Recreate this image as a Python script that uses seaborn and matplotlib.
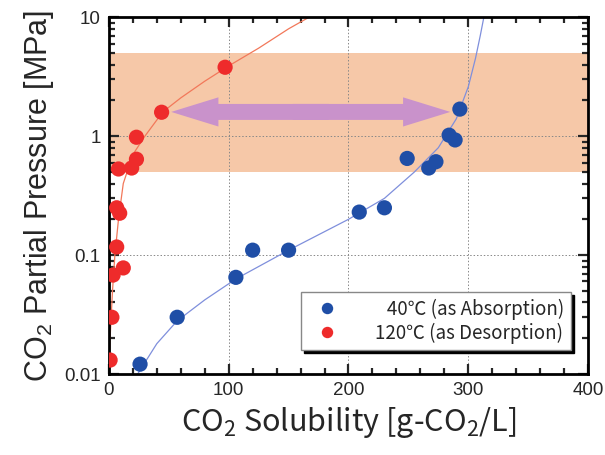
import numpy as np
import pandas as pd
import matplotlib
matplotlib.use('Agg')
import matplotlib.pyplot as plt
import matplotlib.ticker as mticker
from matplotlib.patches import FancyArrowPatch, ArrowStyle
import seaborn as sns

sns.set_theme(style='ticks')
plt.rcParams['font.family'] = ['Liberation Sans', 'DejaVu Sans']
plt.rcParams['mathtext.default'] = 'regular'

# -----------------------------------------------------------------------------
# Data
# -----------------------------------------------------------------------------
lab_40 = '\u200740℃ (as Absorption)'
lab_120 = '120℃ (as Desorption)'

x_40 = [26, 57, 106, 120, 150, 209, 230, 249, 267, 273, 284, 289, 293]
y_40 = [0.0121, 0.030, 0.065, 0.11, 0.11, 0.23, 0.25, 0.65, 0.54, 0.61, 1.02, 0.93, 1.69]

x_120 = [1, 2.5, 3.5, 12, 6.5, 6.5, 9, 8, 19, 23, 23, 44, 97]
y_120 = [0.0131, 0.030, 0.068, 0.078, 0.117, 0.25, 0.225, 0.53, 0.54, 0.64, 0.98, 1.59, 3.8]

# fitted curves as drawn
fit_x_40 = [24, 40, 57, 80, 106, 150, 200, 230, 255, 275, 290, 300, 306, 310, 313]
fit_y_40 = [0.01, 0.018, 0.028, 0.042, 0.063, 0.11, 0.2, 0.3, 0.5, 0.8, 1.4, 2.6, 4.5, 7, 10]

fit_x_120 = [0, 1, 3, 5, 8, 12, 20, 30, 45, 60, 80, 100, 125, 150, 167]
fit_y_120 = [0.01, 0.02, 0.05, 0.1, 0.2, 0.4, 0.7, 1.0, 1.6, 2.1, 2.9, 3.9, 5.5, 8, 10]

band_lo, band_hi = 0.5, 5.0
arrow_left, arrow_right, arrow_y = 52, 285, 1.6

colors = {lab_40: '#1f4ea6', lab_120: '#ee2b2b'}

pts = pd.DataFrame({
    'x': x_40 + x_120,
    'y': y_40 + y_120,
    'series': [lab_40] * len(x_40) + [lab_120] * len(x_120),
})
fits = pd.DataFrame({
    'x': fit_x_40 + fit_x_120,
    'y': fit_y_40 + fit_y_120,
    'series': [lab_40] * len(fit_x_40) + [lab_120] * len(fit_x_120),
})

# -----------------------------------------------------------------------------
# Plot
# -----------------------------------------------------------------------------
fig, ax = plt.subplots(figsize=(6.05, 4.55), dpi=100)
fig.subplots_adjust(left=0.180, right=0.972, top=0.962, bottom=0.178)

ax.set_yscale('log')
ax.set_xlim(0, 400)
ax.set_ylim(0.01, 10)

ax.axhspan(band_lo, band_hi, color='#f6c8a8', lw=0, zorder=0.3)

ax.set_axisbelow(True)
ax.grid(True, which='major', ls=(0, (1.5, 2)), lw=0.7, color='#888888')

sns.lineplot(data=fits, x='x', y='y', hue='series', palette={lab_40: '#7f8fdc', lab_120: '#f2785a'},
             sort=False, estimator=None, lw=0.9, legend=False, ax=ax, zorder=2)

# double-headed fat arrow, built from two halves that overlap in the middle
mid = 0.5 * (arrow_left + arrow_right)
for start, end in [(mid + 15, arrow_left), (mid - 15, arrow_right)]:
    ax.add_patch(FancyArrowPatch((start, arrow_y), (end, arrow_y),
                                 arrowstyle=ArrowStyle.Simple(head_length=34, head_width=21, tail_width=11.5),
                                 mutation_scale=1, shrinkA=0, shrinkB=0,
                                 color='#c992cb', lw=0, zorder=2.5))

sns.scatterplot(data=pts, x='x', y='y', hue='series', palette=colors, s=120,
                edgecolor='none', ax=ax, zorder=3)

ax.xaxis.set_major_locator(mticker.MultipleLocator(100))
ax.xaxis.set_minor_locator(mticker.MultipleLocator(20))
ax.yaxis.set_major_locator(mticker.LogLocator(base=10))
ax.yaxis.set_minor_locator(mticker.LogLocator(base=10, subs=np.arange(2, 10)))
ax.yaxis.set_major_formatter(mticker.FuncFormatter(lambda v, p: '{:g}'.format(v)))
ax.yaxis.set_minor_formatter(mticker.NullFormatter())

ax.tick_params(which='both', direction='in', top=True, right=True, width=1.6, labelsize=13.5, pad=6)
ax.tick_params(which='major', length=7)
ax.tick_params(which='minor', length=4)
for sp in ax.spines.values():
    sp.set_linewidth(2)
    sp.set_color('black')

ax.set_xlabel('CO$_2$ Solubility [g-CO$_2$/L]', fontsize=22, family=['Noto Sans CJK JP', 'DejaVu Sans'], labelpad=4)
ax.set_ylabel('CO$_2$ Partial Pressure [MPa]', fontsize=22, labelpad=6)

leg = ax.legend(loc='lower right', bbox_to_anchor=(0.965, 0.067), borderaxespad=0,
                frameon=True, fancybox=False, shadow={'color': 'black', 'alpha': 1},
                edgecolor='#888888', framealpha=1, markerscale=0.75,
                prop={'family': ['Noto Sans CJK JP', 'DejaVu Sans'], 'size': 13.5},
                handletextpad=1.6, borderpad=0.35, labelspacing=0.15)
leg.get_frame().set_linewidth(1)

fig.savefig('out.png', dpi=100)
